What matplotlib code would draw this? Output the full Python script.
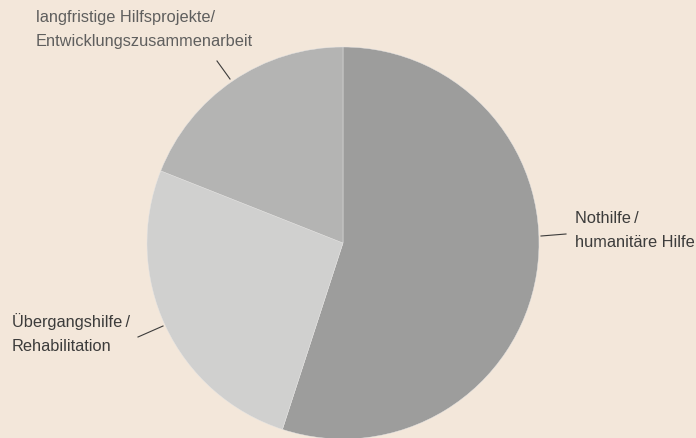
import matplotlib.pyplot as plt

labels = ['Nothilfe\u2009/\nhumanitäre Hilfe', 'Übergangshilfe\u2009/\nRehabilitation',
          'langfristige Hilfsprojekte/\nEntwicklungszusammenarbeit']
values = [55, 26, 19]
colors = ['#9d9d9c', '#d0d0cf', '#b4b4b3']
bg = '#f3e7da'

plt.rcParams['font.family'] = ['Liberation Sans', 'DejaVu Sans']

fig = plt.figure(figsize=(6.96, 4.39), dpi=100, facecolor=bg)
ax = fig.add_axes([0, 0, 1, 1])
ax.set_facecolor(bg)

H = 439
ax.pie(values, colors=colors, startangle=90, counterclock=False,
       center=(343, H - 244), radius=196, frame=True,
       wedgeprops=dict(edgecolor='#e6e6e6', linewidth=0.3))
ax.set_xlim(0, 696)
ax.set_ylim(0, 439)
ax.set_aspect('equal')
ax.axis('off')

# label text, leader line start (on pie) and end
lab_pos = [(575, 211, '#3c3c3b'), (12, 313, '#3c3c3b'), (36, 10, '#5f5f5e')]
lines = [((541, 237), (566, 235)), ((163, 327), (138, 338)), ((230, 80), (217, 62))]

for lab, (x, y, c), (p0, p1) in zip(labels, lab_pos, lines):
    ax.text(x, H - y, lab, ha='left', va='top', fontsize=11.8,
            color=c, linespacing=1.75)
    ax.plot([p0[0], p1[0]], [H - p0[1], H - p1[1]], color='#3c3c3b', lw=0.8)

fig.savefig('out.png', dpi=100, facecolor=bg)
